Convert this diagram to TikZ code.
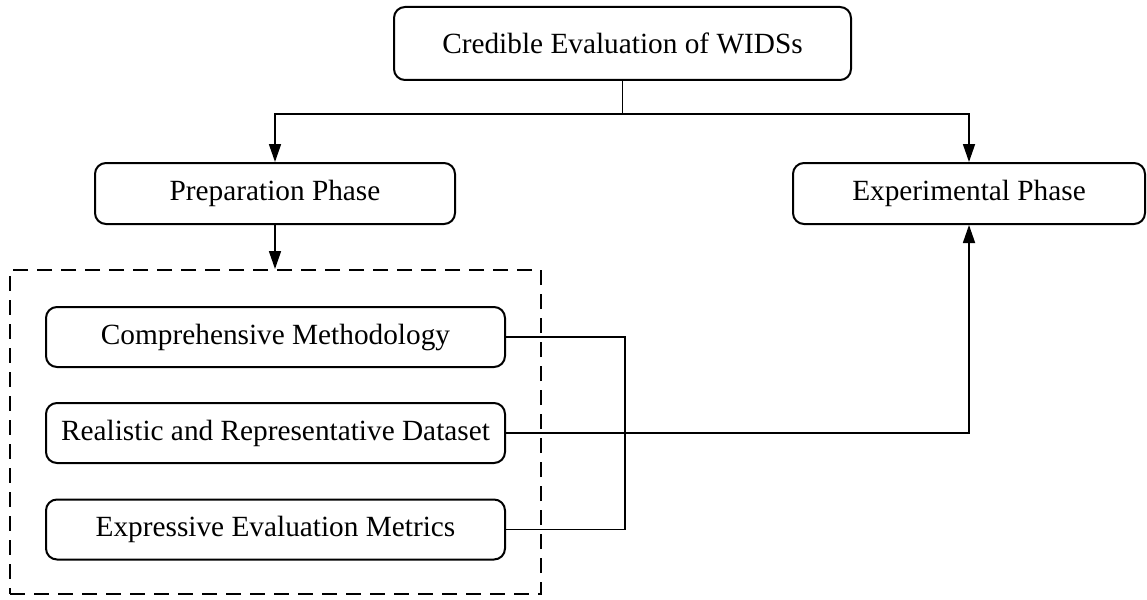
\documentclass[tikz,border=0pt]{standalone}
\usepackage{fontspec}
\setmainfont{Liberation Serif}
\usetikzlibrary{arrows.meta}
\begin{document}
\begin{tikzpicture}[x=1pt,y=-1pt,
  box/.style={draw, line width=2pt, rounded corners=11pt, inner sep=0pt,
    font=\fontsize{29.3}{33}\selectfont, align=center},
  conn/.style={line width=1.7pt},
  arr/.style={line width=1.7pt, -{Triangle[length=18pt,width=12pt]}},
  grp/.style={draw, line width=2pt, dash pattern=on 15pt off 9pt}]
\useasboundingbox (0,0) rectangle (1147,599);
\node[box, minimum width=457pt, minimum height=73pt] (top) at (622.5,43.5) {Credible Evaluation of WIDSs};
\node[box, minimum width=360pt, minimum height=61pt] (prep) at (275,193.5) {Preparation Phase};
\node[box, minimum width=352pt, minimum height=61pt] (exp) at (969,193.5) {Experimental Phase};
\node[grp, minimum width=531pt, minimum height=324pt, inner sep=0pt] (group) at (275.5,432) {};
\node[box, minimum width=459pt, minimum height=60pt] (comp) at (275.5,337) {Comprehensive Methodology};
\node[box, minimum width=459pt, minimum height=60pt] (real) at (275.5,433) {Realistic and Representative Dataset};
\node[box, minimum width=459pt, minimum height=60pt] (expr) at (275.5,529.5) {Expressive Evaluation Metrics};
\coordinate (split) at (622.5,114);
\coordinate (join) at (625,337);
\draw[conn] (top.south) -- (split);
\draw[arr] (split) -| (prep.north);
\draw[arr] (split) -| (exp.north);
\draw[arr] (prep.south) -- (group.north -| prep.south);
\draw[conn] (comp.east) -- (join) |- (expr.east);
\draw[arr] (real.east) -| (exp.south);
\end{tikzpicture}
\end{document}
